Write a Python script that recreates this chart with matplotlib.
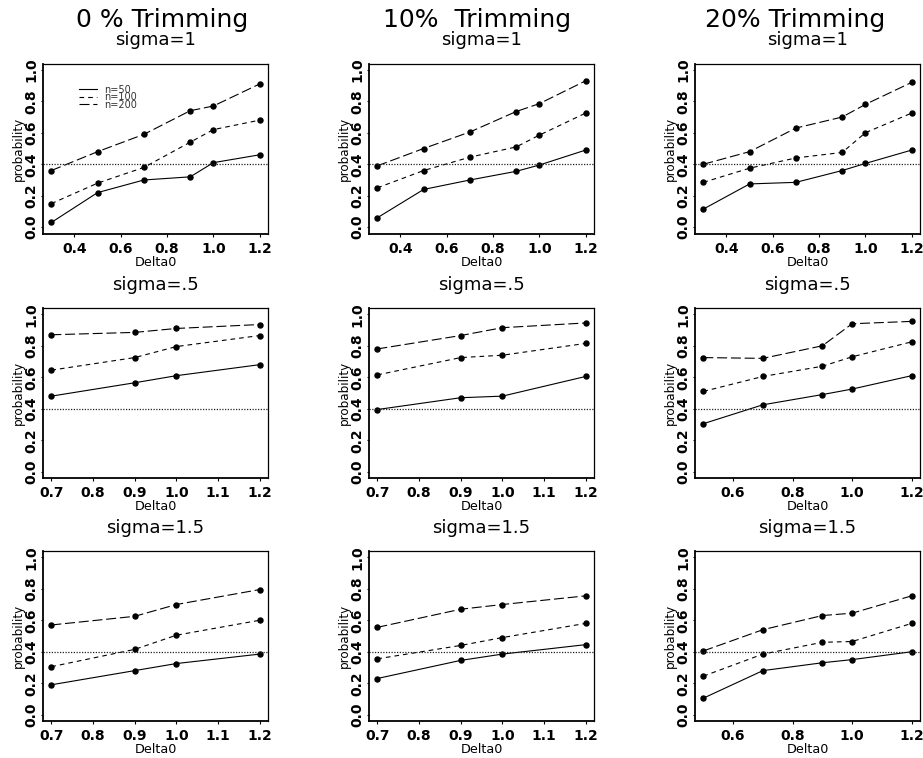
import numpy as np
import matplotlib
matplotlib.use("Agg")
import matplotlib.pyplot as plt

plt.rcParams['font.family'] = ['DejaVu Sans']

# power curves: probability vs Delta0, one panel per trimming / sigma
trim_titles = ["0 % Trimming", "10%  Trimming", "20% Trimming"]
sigma_titles = ["sigma=1", "sigma=.5", "sigma=1.5"]
n_labels = ["n=50", "n=100", "n=200"]
yticks = [0.0, 0.2, 0.4, 0.6, 0.8, 1.0]
ref_level = 0.4

# sigma = 1
d_s1 = [0.3, 0.5, 0.7, 0.9, 1.0, 1.2]
t0_s1_n50 = [0.03, 0.22, 0.30, 0.32, 0.41, 0.46]
t0_s1_n100 = [0.15, 0.28, 0.38, 0.54, 0.62, 0.68]
t0_s1_n200 = [0.36, 0.48, 0.59, 0.74, 0.77, 0.91]
t10_s1_n50 = [0.06, 0.24, 0.30, 0.355, 0.395, 0.49]
t10_s1_n100 = [0.25, 0.36, 0.445, 0.51, 0.585, 0.725]
t10_s1_n200 = [0.39, 0.50, 0.605, 0.735, 0.785, 0.93]
t20_s1_n50 = [0.115, 0.275, 0.285, 0.36, 0.405, 0.49]
t20_s1_n100 = [0.285, 0.375, 0.44, 0.475, 0.60, 0.725]
t20_s1_n200 = [0.40, 0.48, 0.63, 0.70, 0.78, 0.92]

# sigma = .5
d_s05 = [0.7, 0.9, 1.0, 1.2]
d_s05_t20 = [0.5, 0.7, 0.9, 1.0, 1.2]
t0_s05_n50 = [0.48, 0.565, 0.61, 0.68]
t0_s05_n100 = [0.645, 0.725, 0.795, 0.865]
t0_s05_n200 = [0.87, 0.885, 0.91, 0.935]
t10_s05_n50 = [0.395, 0.47, 0.48, 0.605]
t10_s05_n100 = [0.615, 0.725, 0.74, 0.815]
t10_s05_n200 = [0.78, 0.865, 0.915, 0.945]
t20_s05_n50 = [0.305, 0.425, 0.49, 0.525, 0.61]
t20_s05_n100 = [0.51, 0.605, 0.67, 0.73, 0.825]
t20_s05_n200 = [0.725, 0.72, 0.80, 0.94, 0.955]

# sigma = 1.5
d_s15 = [0.7, 0.9, 1.0, 1.2]
d_s15_t20 = [0.5, 0.7, 0.9, 1.0, 1.2]
t0_s15_n50 = [0.19, 0.28, 0.325, 0.385]
t0_s15_n100 = [0.305, 0.415, 0.505, 0.60]
t0_s15_n200 = [0.57, 0.625, 0.70, 0.795]
t10_s15_n50 = [0.23, 0.345, 0.385, 0.445]
t10_s15_n100 = [0.355, 0.44, 0.49, 0.58]
t10_s15_n200 = [0.555, 0.67, 0.70, 0.755]
t20_s15_n50 = [0.105, 0.28, 0.33, 0.35, 0.40]
t20_s15_n100 = [0.245, 0.385, 0.46, 0.465, 0.58]
t20_s15_n200 = [0.405, 0.54, 0.63, 0.645, 0.755]

panels = [
    [(d_s1, t0_s1_n50, t0_s1_n100, t0_s1_n200),
     (d_s1, t10_s1_n50, t10_s1_n100, t10_s1_n200),
     (d_s1, t20_s1_n50, t20_s1_n100, t20_s1_n200)],
    [(d_s05, t0_s05_n50, t0_s05_n100, t0_s05_n200),
     (d_s05, t10_s05_n50, t10_s05_n100, t10_s05_n200),
     (d_s05_t20, t20_s05_n50, t20_s05_n100, t20_s05_n200)],
    [(d_s15, t0_s15_n50, t0_s15_n100, t0_s15_n200),
     (d_s15, t10_s15_n50, t10_s15_n100, t10_s15_n200),
     (d_s15_t20, t20_s15_n50, t20_s15_n100, t20_s15_n200)],
]

W, H = 923, 758
col_left = [43, 369, 695]
row_top = [63.5, 308, 551]
box_w, box_h = 225, 170
line_dashes = [None, (4.2, 3.6), (9.0, 3.4)]

fig = plt.figure(figsize=(W / 100, H / 100), dpi=100)

def r_range(v):
    # R style axis range: data range plus 4% each side
    lo, hi = min(v), max(v)
    pad = 0.04 * (hi - lo)
    return lo - pad, hi + pad

for i in range(3):
    for j in range(3):
        ax = fig.add_axes([col_left[j] / W, 1 - (row_top[i] + box_h) / H,
                           box_w / W, box_h / H])
        x, *series = panels[i][j]
        for k, y in enumerate(series):
            ln, = ax.plot(x, y, color='black', lw=0.8, marker='o', ms=3.6,
                          label=n_labels[k])
            if line_dashes[k] is not None:
                ln.set_dashes(line_dashes[k])
        ax.axhline(ref_level, color='#222222', lw=0.9, dashes=(1.0, 1.2))

        ax.set_xlim(*r_range(x))
        ax.set_ylim(*r_range(yticks))
        ax.set_yticks(yticks)
        ax.set_yticklabels(["%.1f" % v for v in yticks])
        if i == 0:
            xt = [0.4, 0.6, 0.8, 1.0, 1.2]
        elif j < 2:
            xt = [0.7, 0.8, 0.9, 1.0, 1.1, 1.2]
        else:
            xt = [0.6, 0.8, 1.0, 1.2]
        ax.set_xticks(xt)
        ax.set_xticklabels(["%.1f" % v for v in xt])

        ax.tick_params(axis='both', direction='out', length=1.8, width=0.8)
        ax.tick_params(axis='x', pad=4.0, labelsize=10)
        ax.tick_params(axis='y', pad=4.0, labelsize=10)
        for t in ax.get_xticklabels():
            t.set_fontweight('bold')
        for t in ax.get_yticklabels():
            t.set(fontweight='bold', rotation=90, rotation_mode='anchor',
                  ha='center', va='baseline')

        for s in ax.spines.values():
            s.set_linewidth(0.9)
        ax.spines['left'].set_linewidth(1.3)
        ax.spines['bottom'].set_linewidth(1.3)

        ax.set_ylabel("probability", fontsize=8.6)
        ax.yaxis.set_label_coords(-0.08, 0.5)
        ax.set_xlabel("Delta0", fontsize=9.2, va='top')
        ax.xaxis.set_label_coords(0.5, -0.13)
        ax.set_title(sigma_titles[i], fontsize=13, pad=13.0)

        if i == 0 and j == 0:
            ax.legend(loc='upper left', bbox_to_anchor=(0.16, 0.875),
                      frameon=False, fontsize=7.0, handlelength=1.85,
                      handletextpad=0.75, labelspacing=-0.25, borderpad=0,
                      borderaxespad=0, markerscale=0,
                      labelcolor='#333333')

# trimming headings over each column
trim_x = [161.7, 477, 795]
for j in range(3):
    fig.text(trim_x[j] / W, 1 - 27.3 / H, trim_titles[j], fontsize=18,
             ha='center', va='baseline')

fig.savefig("out.png", dpi=100)
